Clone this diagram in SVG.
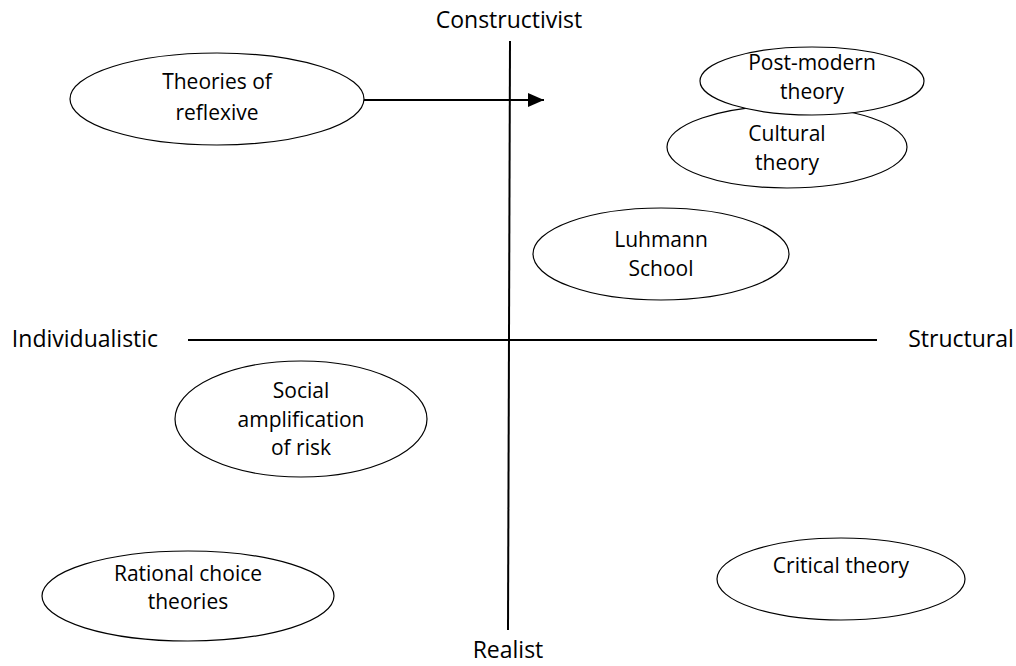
<svg xmlns="http://www.w3.org/2000/svg" width="1016" height="666" viewBox="0 0 1016 666">
  <style>
    text { font-family: "Open Sans", "Noto Sans", sans-serif; font-size: 21px; fill: #000; text-anchor: middle; }
    .axis-label { font-size: 23px; }
    .node ellipse { fill: #fff; stroke: #000; stroke-width: 1.2; }
    .axis { stroke: #000; stroke-width: 2; fill: none; }
  </style>
  <defs>
    <marker id="arrow" viewBox="0 0 16 14" refX="16" refY="7" markerWidth="16" markerHeight="14" markerUnits="userSpaceOnUse" orient="auto">
      <path d="M0,0 L16,7 L0,14 z" fill="#000"/>
    </marker>
  </defs>

  <!-- quadrant axes and their end labels -->
  <g id="axes">
    <line class="axis" x1="510" y1="41" x2="508" y2="630"/>
    <line class="axis" x1="188" y1="340" x2="877" y2="340"/>
    <text class="axis-label" x="509" y="28">Constructivist</text>
    <text class="axis-label" x="508" y="658">Realist</text>
    <text class="axis-label" x="85" y="347">Individualistic</text>
    <text class="axis-label" x="961" y="347">Structural</text>
  </g>

  <!-- connectors -->
  <g id="connectors">
    <line x1="364" y1="100" x2="544" y2="100" stroke="#000" stroke-width="2" marker-end="url(#arrow)"/>
  </g>

  <g id="node-reflexive" class="node">
    <ellipse cx="217" cy="99" rx="147" ry="46"/>
    <text x="217" y="89">Theories of</text>
    <text x="217" y="120">reflexive</text>
  </g>

  <g id="node-cultural" class="node">
    <ellipse cx="787" cy="147" rx="120" ry="41"/>
    <text x="787" y="141">Cultural</text>
    <text x="787" y="170">theory</text>
  </g>

  <g id="node-postmodern" class="node">
    <ellipse cx="812" cy="81" rx="112" ry="34"/>
    <text x="812" y="70">Post-modern</text>
    <text x="812" y="99">theory</text>
  </g>

  <g id="node-luhmann" class="node">
    <ellipse cx="661" cy="254" rx="128" ry="46"/>
    <text x="661" y="247">Luhmann</text>
    <text x="661" y="276">School</text>
  </g>

  <g id="node-amplification" class="node">
    <ellipse cx="301" cy="419" rx="126" ry="58"/>
    <text x="301" y="398">Social</text>
    <text x="301" y="427">amplification</text>
    <text x="301" y="455">of risk</text>
  </g>

  <g id="node-rational" class="node">
    <ellipse cx="188" cy="596" rx="146" ry="45"/>
    <text x="188" y="581">Rational choice</text>
    <text x="188" y="609">theories</text>
  </g>

  <g id="node-critical" class="node">
    <ellipse cx="841" cy="579" rx="124" ry="41"/>
    <text x="841" y="573">Critical theory</text>
  </g>
</svg>
